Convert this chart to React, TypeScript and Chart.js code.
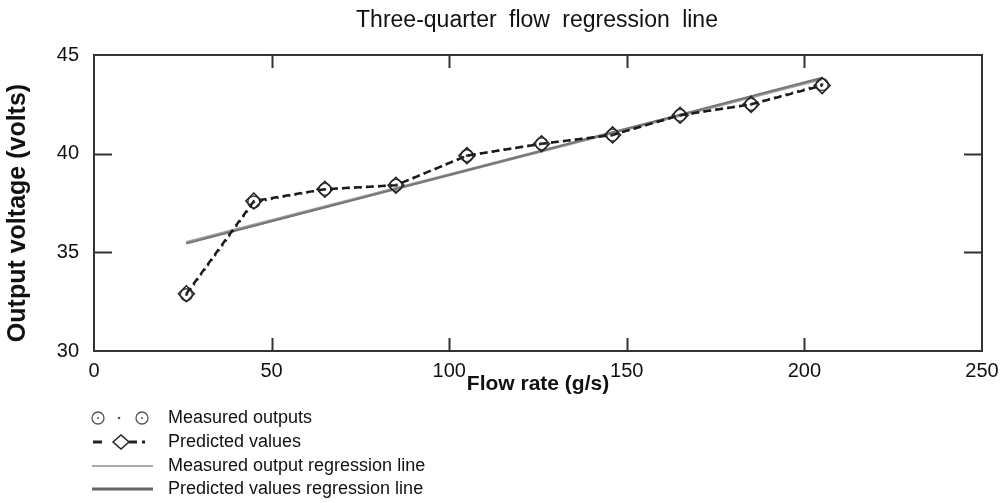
import React, { useEffect, useRef } from "react";
import { Chart, registerables } from "chart.js";

Chart.register(...registerables);

const titleText = "Three-quarter flow regression line";
const xTitle = "Flow rate (g/s)";
const yTitle = "Output voltage (volts)";

const flowRates = [26, 45, 65, 85, 105, 126, 146, 165, 185, 205];
const measuredOutputs = [32.85, 37.55, 38.2, 38.4, 39.9, 40.5, 40.95, 41.95, 42.5, 43.5];
const predictedValues = [32.9, 37.6, 38.2, 38.4, 39.9, 40.5, 40.95, 41.95, 42.5, 43.45];

const regressionX = [26, 205];
const measuredRegression = [35.5, 43.8];
const predictedRegression = [35.45, 43.85];

const legendLabels = [
  "Measured outputs",
  "Predicted values",
  "Measured output regression line",
  "Predicted values regression line",
];

const xTicks = [0, 50, 100, 150, 200, 250];
const yTicks = [30, 35, 40, 45];

const FONT = "'Liberation Sans', Arial, sans-serif";

const framePlugin = {
  id: "frame",
  afterDatasetsDraw(chart: any) {
    const ctx = chart.ctx;
    const { left, right, top, bottom } = chart.chartArea;
    const xs = chart.scales.x;
    const ys = chart.scales.y;
    const meta = chart.getDatasetMeta(0);
    ctx.save();
    ctx.fillStyle = "#333";
    meta.data.forEach((p: any) => {
      ctx.beginPath();
      ctx.arc(p.x, p.y, 1.3, 0, Math.PI * 2);
      ctx.fill();
    });
    ctx.restore();

    ctx.save();
    ctx.strokeStyle = "#333";
    ctx.lineWidth = 2;
    ctx.strokeRect(left, top, right - left, bottom - top);
    xTicks.slice(1, -1).forEach((v) => {
      const px = Math.round(xs.getPixelForValue(v)) + 0.5;
      ctx.beginPath();
      ctx.moveTo(px, bottom);
      ctx.lineTo(px, bottom - 13);
      ctx.moveTo(px, top);
      ctx.lineTo(px, top + 13);
      ctx.stroke();
    });
    yTicks.slice(1, -1).forEach((v) => {
      const py = Math.round(ys.getPixelForValue(v)) + 0.5;
      ctx.beginPath();
      ctx.moveTo(left, py);
      ctx.lineTo(left + 18, py);
      ctx.moveTo(right, py);
      ctx.lineTo(right - 18, py);
      ctx.stroke();
    });
    ctx.restore();
  },
  afterDraw(chart: any) {
    const ctx = chart.ctx;
    const { left, right } = chart.chartArea;
    ctx.save();
    // chart title
    (ctx as any).wordSpacing = "6px";
    ctx.font = `23px ${FONT}`;
    ctx.fillStyle = "#111";
    ctx.textAlign = "center";
    ctx.textBaseline = "middle";
    ctx.fillText(titleText, (left + right) / 2 - 1, 21);
    (ctx as any).wordSpacing = "0px";

    // y axis title
    ctx.save();
    ctx.translate(18, 213);
    ctx.rotate(-Math.PI / 2);
    ctx.font = `bold 25px ${FONT}`;
    ctx.fillText(yTitle, 0, 0);
    ctx.restore();

    const symX = 92;
    const textX = 168;
    const rows = [418, 442, 466, 489];
    ctx.textAlign = "left";
    ctx.font = `18px ${FONT}`;
    legendLabels.forEach((t, i) => ctx.fillText(t, textX, rows[i]));

    ctx.strokeStyle = "#555";
    ctx.fillStyle = "#555";
    ctx.lineWidth = 1.3;
    [98, 142].forEach((cx) => {
      ctx.beginPath();
      ctx.arc(cx, rows[0], 6, 0, Math.PI * 2);
      ctx.stroke();
      ctx.beginPath();
      ctx.arc(cx, rows[0], 1, 0, Math.PI * 2);
      ctx.fill();
    });
    ctx.beginPath();
    ctx.arc(119, rows[0], 1.3, 0, Math.PI * 2);
    ctx.fill();

    ctx.strokeStyle = "#222";
    ctx.lineWidth = 3;
    ctx.beginPath();
    ctx.moveTo(symX + 1, rows[1]);
    ctx.lineTo(symX + 10, rows[1]);
    ctx.moveTo(129, rows[1]);
    ctx.lineTo(137, rows[1]);
    ctx.stroke();
    ctx.fillStyle = "#222";
    ctx.fillRect(142, rows[1] - 1.5, 3, 3);
    ctx.lineWidth = 1.5;
    ctx.beginPath();
    ctx.moveTo(113, rows[1]);
    ctx.lineTo(121, rows[1] - 7);
    ctx.lineTo(129, rows[1]);
    ctx.lineTo(121, rows[1] + 7);
    ctx.closePath();
    ctx.stroke();

    ctx.strokeStyle = "#aaaaaa";
    ctx.lineWidth = 2;
    ctx.beginPath();
    ctx.moveTo(symX, rows[2]);
    ctx.lineTo(153, rows[2]);
    ctx.stroke();
    ctx.strokeStyle = "#666666";
    ctx.lineWidth = 3;
    ctx.beginPath();
    ctx.moveTo(symX, rows[3]);
    ctx.lineTo(153, rows[3]);
    ctx.stroke();
    ctx.restore();
  },
};

export default function App() {
  const canvasRef = useRef<HTMLCanvasElement | null>(null);

  useEffect(() => {
    document.body.style.margin = "0";
    const canvas = canvasRef.current;
    if (!canvas) return;
    const chart = new Chart(canvas, {
      type: "line",
      data: {
        datasets: [
          {
            label: legendLabels[0],
            data: flowRates.map((x, i) => ({ x, y: measuredOutputs[i] })),
            borderColor: "#333",
            borderWidth: 2.5,
            borderDash: [2, 4],
            pointStyle: "circle",
            pointRadius: 6,
            pointBorderColor: "#444",
            pointBackgroundColor: "rgba(255,255,255,0)",
            pointBorderWidth: 1.5,
            order: 2,
          },
          {
            label: legendLabels[1],
            data: flowRates.map((x, i) => ({ x, y: predictedValues[i] })),
            borderColor: "#1a1a1a",
            borderWidth: 2.5,
            borderDash: [7, 5],
            pointStyle: "rectRot",
            pointRadius: 8,
            pointBorderColor: "#222",
            pointBackgroundColor: "rgba(255,255,255,0)",
            pointBorderWidth: 1.5,
            order: 1,
          },
          {
            label: legendLabels[2],
            data: regressionX.map((x, i) => ({ x, y: measuredRegression[i] })),
            borderColor: "#a0a0a0",
            borderWidth: 3,
            pointRadius: 0,
            order: 4,
          },
          {
            label: legendLabels[3],
            data: regressionX.map((x, i) => ({ x, y: predictedRegression[i] })),
            borderColor: "#777777",
            borderWidth: 2,
            pointRadius: 0,
            order: 3,
          },
        ],
      },
      options: {
        animation: false,
        responsive: true,
        maintainAspectRatio: false,
        layout: { padding: { left: 0, right: 21, top: 55, bottom: 0 } },
        plugins: {
          legend: { display: false },
          tooltip: { enabled: false },
          title: { display: false },
        },
        scales: {
          x: {
            type: "linear",
            min: 0,
            max: 250,
            afterFit: (s: any) => {
              s.height = 152;
              s.paddingLeft = 0;
              s.paddingRight = 0;
            },
            afterBuildTicks: (s: any) => {
              s.ticks = xTicks.map((v) => ({ value: v }));
            },
            grid: { display: false, drawTicks: false },
            border: { display: false },
            ticks: {
              color: "#111",
              padding: 8,
              maxRotation: 0,
              font: { family: FONT, size: 20 },
            },
            title: {
              display: true,
              text: xTitle,
              color: "#111",
              font: { family: FONT, size: 21, weight: "bold" },
              padding: { top: 0, bottom: 106 },
            },
          },
          y: {
            type: "linear",
            min: 30,
            max: 45,
            afterFit: (s: any) => {
              s.width = 94;
            },
            afterBuildTicks: (s: any) => {
              s.ticks = yTicks.map((v) => ({ value: v }));
            },
            grid: { display: false, drawTicks: false },
            border: { display: false },
            ticks: {
              color: "#111",
              padding: 15,
              font: { family: FONT, size: 20 },
            },
            title: { display: false },
          },
        },
      },
      plugins: [framePlugin],
    } as any);
    return () => chart.destroy();
  }, []);

  return (
    <div style={{ width: 1003, height: 503, position: "relative" }}>
      <canvas ref={canvasRef} />
    </div>
  );
}
